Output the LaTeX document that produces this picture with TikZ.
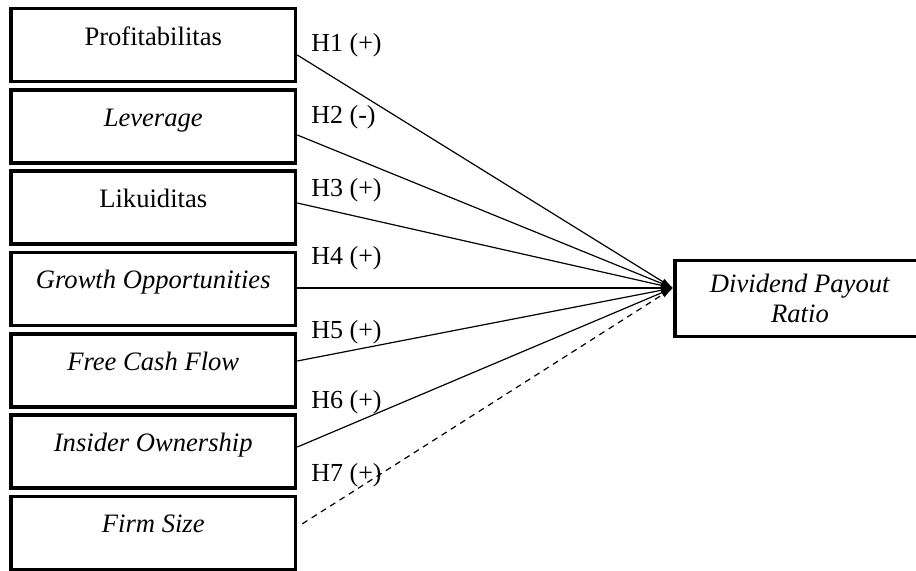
\documentclass[tikz,border=0pt]{standalone}
\usepackage{fontspec}
\setmainfont{Liberation Serif}
\usepackage{tikz}
\usetikzlibrary{arrows.meta}
\tikzstyle{varbox}=[draw,line width=1.8pt,rectangle,minimum width=142.25pt,inner xsep=0pt,inner ysep=0pt,text height=18.25pt,text depth=18.25pt,font=\fontsize{13.3}{15}\selectfont]
\tikzstyle{hyplabel}=[anchor=west,inner sep=0pt,font=\fontsize{13}{15}\selectfont]
\tikzstyle{hyp}=[line width=0.6pt,-{Latex[length=6pt,width=3.4pt]}]

\begin{document}
\begin{tikzpicture}[x=0.5pt,y=-0.5pt]
\clip (0,0) rectangle (916,570);

% independent variables
\node[varbox] (prof) at (153.25,45) {Profitabilitas};
\node[varbox] (lev) at (153.25,126.3) {\textit{Leverage}};
\node[varbox] (lik) at (153.25,207.6) {Likuiditas};
\node[varbox] (grow) at (153.25,288.9) {\textit{Growth Opportunities}};
\node[varbox] (fcf) at (153.25,370.2) {\textit{Free Cash Flow}};
\node[varbox] (ins) at (153.25,451.5) {\textit{Insider Ownership}};
\node[varbox] (size) at (153.25,532.8) {\textit{Firm Size}};

% dependent variable
\node[draw,line width=1.8pt,minimum width=125.25pt,minimum height=38pt,inner sep=0pt,align=center,font=\fontsize{13.3}{15}\selectfont] (dpr) at (800,298.5) {\textit{Dividend Payout}\\\textit{Ratio}};
\coordinate (tip) at ([yshift=5.25pt]dpr.west);

% hypotheses
\node[hyplabel] (h1) at (311,45) {H1 (+)};
\node[hyplabel] (h2) at (311,117) {H2 (-)};
\node[hyplabel] (h3) at (311,190) {H3 (+)};
\node[hyplabel] (h4) at (311,258) {H4 (+)};
\node[hyplabel] (h5) at (311,332) {H5 (+)};
\node[hyplabel] (h6) at (311,402) {H6 (+)};
\node[hyplabel] (h7) at (311,475) {H7 (+)};

\draw[hyp] ([yshift=-5pt]prof.east) -- (tip);
\draw[hyp] ([yshift=-4.35pt]lev.east) -- (tip);
\draw[hyp] ([yshift=2.3pt]lik.east) -- (tip);
\draw[hyp] (grow.east |- tip) -- (tip);
\draw[hyp] ([yshift=4.6pt]fcf.east) -- (tip);
\draw[hyp] ([yshift=2.25pt]ins.east) -- (tip);
\draw[hyp,dash pattern=on 3pt off 2.5pt,shorten <=3pt] ([yshift=2.9pt]size.east) -- (tip);

\end{tikzpicture}
\end{document}
